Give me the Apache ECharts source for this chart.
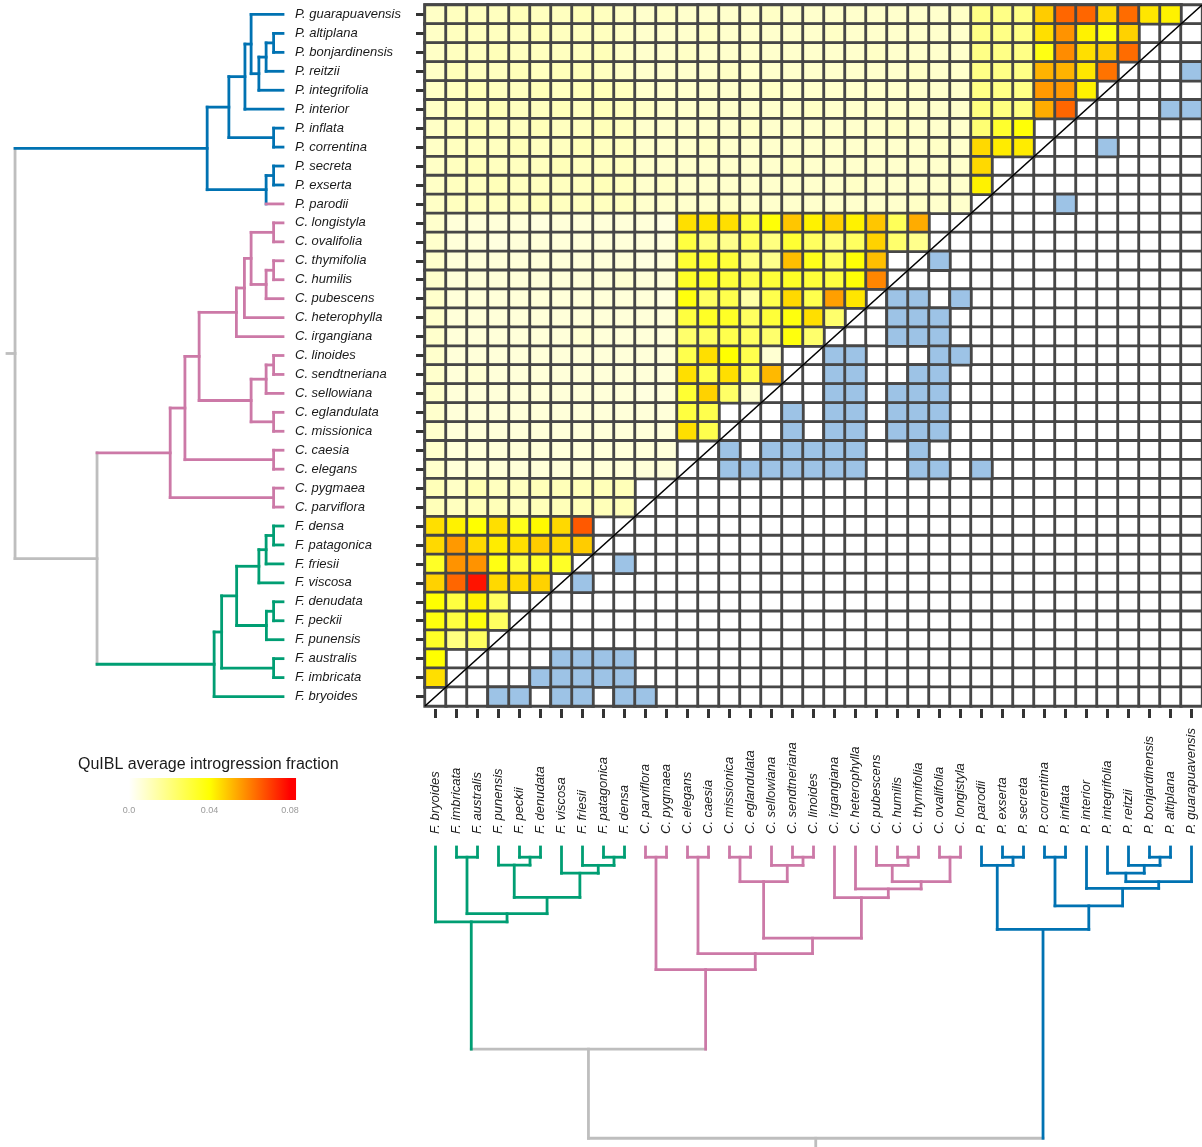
<!DOCTYPE html>
<html>
<head>
<meta charset="utf-8">
<title>QuIBL introgression matrix</title>
<script src="https://cdn.jsdelivr.net/npm/echarts@6/dist/echarts.min.js"></script>
<style>
  html, body { margin: 0; padding: 0; background: #ffffff; }
  #chart { width: 1202px; height: 1147px; }
</style>
</head>
<body>
<div id="chart"></div>
<script>
// Species in row order (top to bottom); columns run in the reverse order.
const species = [
  'P. guarapuavensis', 'P. altiplana', 'P. bonjardinensis', 'P. reitzii', 'P. integrifolia',
  'P. interior', 'P. inflata', 'P. correntina', 'P. secreta', 'P. exserta', 'P. parodii',
  'C. longistyla', 'C. ovalifolia', 'C. thymifolia', 'C. humilis', 'C. pubescens',
  'C. heterophylla', 'C. irgangiana', 'C. linoides', 'C. sendtneriana', 'C. sellowiana',
  'C. eglandulata', 'C. missionica', 'C. caesia', 'C. elegans', 'C. pygmaea', 'C. parviflora',
  'F. densa', 'F. patagonica', 'F. friesii', 'F. viscosa', 'F. denudata', 'F. peckii',
  'F. punensis', 'F. australis', 'F. imbricata', 'F. bryoides'
];
const columns = species.slice().reverse();

// Average introgression fraction, upper triangle: row i holds columns 0 .. (35 - i).
// null = pair not estimated (sister species).
const fractionRows = [
  // P. guarapuavensis
  [0.009,0.010,0.010,0.010,0.011,0.010,0.010,0.011,0.010,0.009, 0.008,0.009,0.008,0.008,0.008,0.008,0.009,0.008,0.008,0.008,0.008,0.008,0.008,0.008,0.008,0.009, 0.019,0.019,0.019,0.048,0.064,0.064,0.046,0.063,0.044,0.042],
  // P. altiplana
  [0.009,0.010,0.010,0.010,0.010,0.011,0.010,0.010,0.010,0.009, 0.008,0.008,0.008,0.009,0.008,0.008,0.008,0.008,0.008,0.009,0.008,0.008,0.008,0.008,0.008,0.008, 0.019,0.019,0.019,0.045,0.057,0.042,0.038,0.047,null],
  // P. bonjardinensis
  [0.009,0.010,0.010,0.011,0.010,0.010,0.010,0.010,0.011,0.009, 0.008,0.008,0.009,0.008,0.008,0.008,0.008,0.008,0.008,0.008,0.008,0.009,0.008,0.008,0.008,0.008, 0.019,0.019,0.019,0.037,0.058,0.045,0.048,0.063],
  // P. reitzii
  [0.009,0.011,0.010,0.010,0.011,0.010,0.011,0.011,0.010,0.009, 0.008,0.008,0.008,0.008,0.009,0.008,0.008,0.008,0.008,0.008,0.008,0.008,0.008,0.009,0.008,0.008, 0.019,0.019,0.019,0.052,0.052,0.044,0.062],
  // P. integrifolia
  [0.009,0.010,0.011,0.010,0.010,0.011,0.010,0.011,0.011,0.010, 0.008,0.008,0.008,0.008,0.008,0.008,0.009,0.008,0.008,0.008,0.008,0.008,0.008,0.008,0.008,0.008, 0.019,0.019,0.019,0.056,0.056,0.042],
  // P. interior
  [0.009,0.010,0.010,0.011,0.010,0.010,0.011,0.010,0.011,0.010, 0.009,0.008,0.008,0.008,0.008,0.008,0.008,0.008,0.009,0.008,0.008,0.008,0.008,0.008,0.008,0.008, 0.020,0.020,0.020,0.053,0.064],
  // P. inflata
  [0.009,0.010,0.011,0.010,0.010,0.011,0.010,0.010,0.011,0.010, 0.008,0.008,0.008,0.008,0.008,0.009,0.008,0.008,0.008,0.008,0.008,0.008,0.009,0.008,0.008,0.008, 0.022,0.033,0.039,null],
  // P. correntina
  [0.009,0.010,0.010,0.010,0.011,0.010,0.010,0.011,0.010,0.010, 0.008,0.008,0.008,0.009,0.008,0.008,0.008,0.008,0.008,0.008,0.008,0.008,0.008,0.008,0.009,0.008, 0.046,0.043,0.043],
  // P. secreta
  [0.009,0.010,0.011,0.010,0.010,0.010,0.011,0.010,0.010,0.010, 0.008,0.008,0.008,0.008,0.008,0.008,0.008,0.009,0.008,0.008,0.008,0.008,0.008,0.008,0.008,0.008, 0.046,null],
  // P. exserta
  [0.009,0.010,0.010,0.011,0.010,0.010,0.010,0.010,0.011,0.010, 0.008,0.009,0.008,0.008,0.008,0.008,0.008,0.008,0.008,0.008,0.009,0.008,0.008,0.008,0.008,0.008, 0.042],
  // P. parodii
  [0.009,0.010,0.010,0.010,0.010,0.011,0.010,0.010,0.010,0.010, 0.008,0.008,0.008,0.008,0.009,0.008,0.008,0.008,0.008,0.008,0.008,0.008,0.008,0.009,0.008,0.008],
  // C. longistyla
  [0.008,0.006,0.006,0.006,0.006,0.005,0.006,0.006,0.006,0.006, 0.006,0.005, 0.045,0.044,0.045,0.030,0.039,0.049,0.042,0.047,0.042,0.049,0.026,0.053,null],
  // C. ovalifolia
  [0.008,0.006,0.006,0.005,0.006,0.006,0.006,0.006,0.006,0.006, 0.006,0.006, 0.030,0.020,0.018,0.025,0.020,0.032,0.025,0.020,0.025,0.047,0.023,0.018],
  // C. thymifolia
  [0.008,0.006,0.006,0.006,0.006,0.006,0.006,0.006,0.006,0.006, 0.005,0.006, 0.032,0.033,0.031,0.020,0.018,0.050,0.036,0.025,0.039,0.050,null],
  // C. humilis
  [0.008,0.006,0.006,0.006,0.006,0.006,0.006,0.006,0.006,0.007, 0.006,0.006, 0.034,0.034,0.031,0.028,0.031,0.034,0.031,0.030,0.039,0.059],
  // C. pubescens
  [0.008,0.006,0.006,0.006,0.006,0.006,0.006,0.006,0.006,0.006, 0.006,0.005, 0.038,0.025,0.028,0.014,0.028,0.046,0.028,0.055,0.044],
  // C. heterophylla
  [0.008,0.006,0.006,0.006,0.006,0.006,0.006,0.006,0.006,0.006, 0.006,0.006, 0.030,0.034,0.034,0.025,0.031,0.038,0.045,0.023],
  // C. irgangiana
  [0.008,0.006,0.006,0.006,0.006,0.006,0.006,0.007,0.006,0.006, 0.006,0.006, 0.023,0.025,0.028,0.025,0.023,0.038,0.023],
  // C. linoides
  [0.008,0.006,0.006,0.006,0.006,0.006,0.006,0.006,0.006,0.006, 0.006,0.006, 0.028,0.045,0.040,0.028,0.007,null],
  // C. sendtneriana
  [0.008,0.006,0.007,0.006,0.006,0.006,0.006,0.006,0.006,0.006, 0.006,0.006, 0.045,0.028,0.045,0.026,0.051],
  // C. sellowiana
  [0.008,0.006,0.006,0.006,0.006,0.006,0.006,0.006,0.006,0.006, 0.005,0.006, 0.032,0.047,0.024,0.008],
  // C. eglandulata
  [0.008,0.006,0.006,0.006,0.006,0.006,0.006,0.006,0.006,0.006, 0.006,0.006, 0.030,0.028,null],
  // C. missionica
  [0.008,0.006,0.006,0.006,0.006,0.006,0.006,0.006,0.006,0.006, 0.006,0.006, 0.045,0.028],
  // C. caesia
  [0.008,0.006,0.006,0.006,0.006,0.006,0.006,0.006,0.006,0.006, 0.006,0.006, null],
  // C. elegans
  [0.008,0.006,0.006,0.006,0.006,0.006,0.006,0.006,0.006,0.006, 0.006,0.006],
  // C. pygmaea
  [0.011,0.009,0.012,0.010,0.010,0.011,0.011,0.011,0.011,0.011, null],
  // C. parviflora
  [0.011,0.010,0.011,0.011,0.010,0.011,0.011,0.011,0.011,0.011],
  // F. densa
  [0.045,0.042,0.040,0.045,0.036,0.041,0.046,0.066,null],
  // F. patagonica
  [0.046,0.056,0.046,0.043,0.045,0.048,0.046,0.048],
  // F. friesii
  [0.034,0.057,0.057,0.037,0.030,0.034,0.034],
  // F. viscosa
  [0.047,0.064,0.077,0.046,0.046,0.047],
  // F. denudata
  [0.040,0.030,0.042,0.025,null],
  // F. peckii
  [0.038,0.030,0.038,0.025],
  // F. punensis
  [0.034,0.020,0.025],
  // F. australis
  [0.040,null],
  // F. imbricata
  [0.045],
  // F. bryoides
  []
];

// Lower-triangle cells shaded blue, as [row, column] indices.
const flaggedCells = [
  [3,36], [5,35], [5,36], [7,32], [10,30],
  [13,24],
  [15,22], [15,23], [15,25],
  [16,22], [16,23], [16,24],
  [17,22], [17,23], [17,24],
  [18,19], [18,20], [18,24], [18,25],
  [19,19], [19,20], [19,23], [19,24],
  [20,19], [20,20], [20,22], [20,23], [20,24],
  [21,17], [21,19], [21,20], [21,22], [21,23], [21,24],
  [22,17], [22,19], [22,20], [22,22], [22,23], [22,24],
  [23,14], [23,16], [23,17], [23,18], [23,19], [23,20], [23,23],
  [24,14], [24,15], [24,16], [24,17], [24,18], [24,19], [24,20], [24,23], [24,24], [24,26],
  [29,9], [30,7],
  [34,6], [34,7], [34,8], [34,9],
  [35,5], [35,6], [35,7], [35,8], [35,9],
  [36,3], [36,4], [36,6], [36,7], [36,9], [36,10]
];

// Species tree: [node, age (root = 1), child, child].
const treeNodes = [
  ['root', 1.000, 'Petunia', 'FC'],
  ['FC', 0.694, 'Calibrachoa', 'Fabiana'],
  ['Petunia', 0.283, 'P1', 'P9'],
  ['P1', 0.202, 'P2', 'P8'],
  ['P2', 0.142, 'P3', 'P. interior'],
  ['P3', 0.119, 'P. guarapuavensis', 'P4'],
  ['P4', 0.090, 'P5', 'P. integrifolia'],
  ['P5', 0.063, 'P6', 'P. reitzii'],
  ['P6', 0.035, 'P. altiplana', 'P. bonjardinensis'],
  ['P8', 0.035, 'P. inflata', 'P. correntina'],
  ['P9', 0.063, 'P10', 'P. parodii'],
  ['P10', 0.035, 'P. secreta', 'P. exserta'],
  ['Calibrachoa', 0.421, 'C1', 'C14'],
  ['C1', 0.366, 'C2', 'C13'],
  ['C2', 0.313, 'C3', 'C9'],
  ['C3', 0.174, 'C4', 'C. irgangiana'],
  ['C4', 0.144, 'C5', 'C. heterophylla'],
  ['C5', 0.119, 'C6', 'C7'],
  ['C6', 0.035, 'C. longistyla', 'C. ovalifolia'],
  ['C7', 0.063, 'C8', 'C. pubescens'],
  ['C8', 0.035, 'C. thymifolia', 'C. humilis'],
  ['C9', 0.119, 'C10', 'C12'],
  ['C10', 0.063, 'C11', 'C. sellowiana'],
  ['C11', 0.035, 'C. linoides', 'C. sendtneriana'],
  ['C12', 0.035, 'C. eglandulata', 'C. missionica'],
  ['C13', 0.035, 'C. caesia', 'C. elegans'],
  ['C14', 0.035, 'C. pygmaea', 'C. parviflora'],
  ['Fabiana', 0.257, 'F1', 'F. bryoides'],
  ['F1', 0.229, 'F2', 'F8'],
  ['F2', 0.173, 'F3', 'F6'],
  ['F3', 0.090, 'F4', 'F. viscosa'],
  ['F4', 0.063, 'F5', 'F. friesii'],
  ['F5', 0.035, 'F. densa', 'F. patagonica'],
  ['F6', 0.062, 'F7', 'F. punensis'],
  ['F7', 0.035, 'F. denudata', 'F. peckii'],
  ['F8', 0.035, 'F. australis', 'F. imbricata']
];
const rootEdge = 0.03;

const genusColours = { P: '#0072B2', C: '#CC79A7', F: '#009E73' };
const mixedColour = '#BEBEBE';
// tip branches of the side tree drawn in another genus colour
const sideTreeTipColours = { 'P. parodii': 'C' };

// colour scale of the fraction
const colourStops = [
  { value: 0.00, color: '#ffffff' },
  { value: 0.04, color: '#ffff00' },
  { value: 0.08, color: '#ff0000' }
];
const legendExtent = [-0.0045, 0.083];
const flaggedColour = '#9DC3E6';
const gridLineColour = '#474747';
const textFont = '"Liberation Sans", Arial, sans-serif';

// ---------- build series data ----------
const n = species.length;
const backgroundCells = [];
for (let i = 0; i < n; i++) for (let j = 0; j < n; j++) backgroundCells.push([j, i, 0]);

const fractionCells = [];
fractionRows.forEach((row, i) => row.forEach((v, j) => { if (v !== null) fractionCells.push([j, i, v]); }));
const flaggedData = flaggedCells.map(([r, c]) => [c, r, 1]);

const nodeMap = {};
treeNodes.forEach(nd => { nodeMap[nd[0]] = { age: nd[1], children: nd.slice(2) }; });
const ageOf = name => (nodeMap[name] ? nodeMap[name].age : 0);
function leavesOf(name) {
  if (!nodeMap[name]) return [name];
  return nodeMap[name].children.reduce((acc, c) => acc.concat(leavesOf(c)), []);
}
function colourOf(name, tipOverride) {
  if (!nodeMap[name] && tipOverride && tipOverride[name]) return genusColours[tipOverride[name]];
  const lv = leavesOf(name);
  const g = lv[0][0];
  return lv.every(s => s[0] === g) ? genusColours[g] : mixedColour;
}
// segments as [age1, pos1, age2, pos2] plus colours
function treeSegments(leafPos, tipOverride) {
  const pos = {};
  const place = name => {
    if (pos[name] !== undefined) return pos[name];
    pos[name] = nodeMap[name]
      ? nodeMap[name].children.map(place).reduce((a, b) => a + b, 0) / nodeMap[name].children.length
      : leafPos(name);
    return pos[name];
  };
  place('root');
  const segs = [], cols = [];
  treeNodes.forEach(([name, age, ...kids]) => {
    const ps = kids.map(k => pos[k]);
    segs.push([age, Math.min(...ps), age, Math.max(...ps)]);
    cols.push(colourOf(name));
    kids.forEach(k => {
      segs.push([age, pos[k], ageOf(k), pos[k]]);
      cols.push(colourOf(k, tipOverride));
    });
  });
  segs.push([ageOf('root'), pos['root'], ageOf('root') + rootEdge, pos['root']]);
  cols.push(mixedColour);
  return { segs, cols };
}
const sideTree = treeSegments(s => species.indexOf(s), sideTreeTipColours);
const bottomTree = treeSegments(s => columns.indexOf(s), null);
const bottomSegs = bottomTree.segs.map(([a1, p1, a2, p2]) => [p1, a1, p2, a2]);

function segmentRenderer(colours, width) {
  return (params, api) => {
    const a = api.coord([api.value(0), api.value(1)]);
    const b = api.coord([api.value(2), api.value(3)]);
    return {
      type: 'line',
      shape: { x1: a[0], y1: a[1], x2: b[0], y2: b[1] },
      style: { stroke: colours[params.dataIndex], lineWidth: width, lineCap: 'square' }
    };
  };
}

const hidden = { show: false };
const matrixGrid = { left: 425, top: 5, width: 777, height: 701 };

const chart = echarts.init(document.getElementById('chart'), null, { renderer: 'canvas' });
chart.setOption({
  animation: false,
  backgroundColor: '#ffffff',
  textStyle: { fontFamily: textFont },
  title: {
    text: 'QuIBL average introgression fraction',
    left: 73, top: 752,
    textStyle: { fontFamily: textFont, fontSize: 16, fontWeight: 'normal', color: '#1a1a1a' }
  },
  grid: [
    matrixGrid,
    matrixGrid,
    { left: 7, top: 5, width: 276, height: 701 },
    { left: 425, top: 847, width: 777, height: 304 },
    { left: 129, top: 778, width: 161, height: 22 }
  ],
  xAxis: [
    {
      gridIndex: 0, type: 'category', data: columns, position: 'bottom', offset: 3,
      axisLine: hidden,
      axisTick: { show: true, alignWithLabel: true, length: 9, lineStyle: { color: '#333', width: 3 } },
      axisLabel: {
        interval: 0, rotate: 90, align: 'left', verticalAlign: 'middle', margin: 125,
        fontStyle: 'italic', fontSize: 13, color: '#1a1a1a', fontFamily: textFont, hideOverlap: false
      },
      splitLine: hidden
    },
    { gridIndex: 1, type: 'value', min: 0, max: n, show: false },
    { gridIndex: 2, type: 'value', min: 0, max: 1 + rootEdge, inverse: true, show: false },
    { gridIndex: 3, type: 'value', min: -0.5, max: n - 0.5, show: false },
    {
      gridIndex: 4, type: 'value', min: 0, max: 0.08, interval: 0.04,
      axisLine: hidden, axisTick: hidden, splitLine: hidden,
      axisLabel: {
        margin: 6, fontSize: 9, color: '#9a9a9a', fontFamily: textFont,
        formatter: v => (v === 0 ? '0.0' : v.toFixed(2))
      }
    }
  ],
  yAxis: [
    {
      gridIndex: 0, type: 'category', data: species, inverse: true, offset: 1,
      axisLine: hidden,
      axisTick: { show: true, alignWithLabel: true, length: 8, lineStyle: { color: '#333', width: 3 } },
      axisLabel: {
        interval: 0, align: 'left', margin: 129,
        fontStyle: 'italic', fontSize: 13, color: '#1a1a1a', fontFamily: textFont, hideOverlap: false
      },
      splitLine: hidden
    },
    { gridIndex: 1, type: 'value', min: 0, max: n, show: false },
    { gridIndex: 2, type: 'value', min: -0.5, max: n - 0.5, inverse: true, show: false },
    { gridIndex: 3, type: 'value', min: 0, max: 1 + rootEdge, inverse: true, show: false },
    { gridIndex: 4, type: 'value', min: 0, max: 1, show: false }
  ],
  visualMap: {
    type: 'continuous', show: false, seriesIndex: 1, dimension: 2,
    min: colourStops[0].value, max: colourStops[colourStops.length - 1].value,
    inRange: { color: colourStops.map(s => s.color) }
  },
  series: [
    {
      type: 'heatmap', xAxisIndex: 0, yAxisIndex: 0, data: backgroundCells,
      progressive: 0, silent: true, emphasis: { disabled: true },
      itemStyle: { color: '#ffffff', borderColor: gridLineColour, borderWidth: 2.8 }
    },
    {
      type: 'heatmap', xAxisIndex: 0, yAxisIndex: 0, data: fractionCells,
      progressive: 0, silent: true, emphasis: { disabled: true },
      itemStyle: { borderColor: gridLineColour, borderWidth: 2.8 }
    },
    {
      type: 'heatmap', xAxisIndex: 0, yAxisIndex: 0, data: flaggedData,
      progressive: 0, silent: true, emphasis: { disabled: true },
      itemStyle: { color: flaggedColour, borderColor: gridLineColour, borderWidth: 2.8 }
    },
    {
      type: 'line', xAxisIndex: 1, yAxisIndex: 1, data: [[0, 0], [n, n]],
      symbol: 'none', silent: true, z: 10,
      lineStyle: { color: '#000000', width: 1.6 }
    },
    {
      type: 'custom', xAxisIndex: 2, yAxisIndex: 2, data: sideTree.segs, clip: false, silent: true,
      encode: { x: [0, 2], y: [1, 3] },
      renderItem: segmentRenderer(sideTree.cols, 2.8)
    },
    {
      type: 'custom', xAxisIndex: 3, yAxisIndex: 3, data: bottomSegs, clip: false, silent: true,
      encode: { x: [0, 2], y: [1, 3] },
      renderItem: segmentRenderer(bottomTree.cols, 2.8)
    },
    {
      type: 'custom', xAxisIndex: 4, yAxisIndex: 4, data: [[legendExtent[0], 0, legendExtent[1], 1]],
      clip: false, silent: true,
      encode: { x: [0, 2], y: [1, 3] },
      renderItem: (params, api) => {
        const p0 = api.coord([api.value(0), api.value(3)]);
        const p1 = api.coord([api.value(2), api.value(1)]);
        const span = api.value(2) - api.value(0);
        const stops = colourStops.map(s => ({
          offset: Math.min(1, Math.max(0, (s.value - api.value(0)) / span)),
          color: s.color
        }));
        return {
          type: 'rect',
          shape: { x: p0[0], y: p0[1], width: p1[0] - p0[0], height: p1[1] - p0[1] },
          style: { fill: new echarts.graphic.LinearGradient(0, 0, 1, 0, stops) }
        };
      }
    }
  ]
});
</script>
</body>
</html>
